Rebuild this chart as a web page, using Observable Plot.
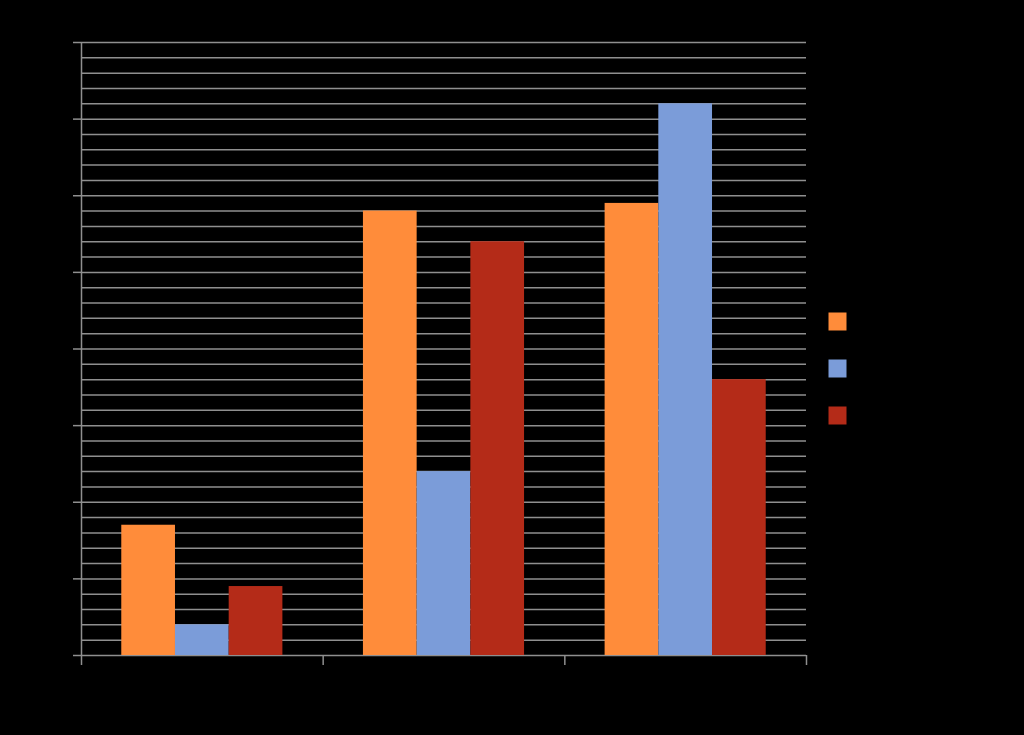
<!DOCTYPE html>
<html><head><meta charset="utf-8">
<script src="https://cdn.jsdelivr.net/npm/d3@7"></script>
<script src="https://cdn.jsdelivr.net/npm/@observablehq/plot@0.6"></script>
<style>
html,body{margin:0;padding:0;background:#000;}
#wrap{position:relative;width:1024px;height:735px;overflow:hidden;background:#000}
#legend{position:absolute;left:818px;top:290px}
</style></head><body><div id="wrap"><div id="chart"></div><div id="legend"></div></div>
<script>
const categories = ["Category 1", "Category 2", "Category 3"];
const seriesNames = ["Series 1", "Series 2", "Series 3"];
const series1 = [1.7, 5.8, 5.9];
const series2 = [0.4, 2.4, 7.2];
const series3 = [0.9, 5.4, 3.6];
const colors = ["#FF8C3A", "#7B9CD9", "#B42B18"];
const majorTicks = [0, 1, 2, 3, 4, 5, 6, 7, 8];
const minorStep = 0.2;

const seriesValues = [series1, series2, series3];
const rows = [];
categories.forEach((c, i) => {
  seriesValues.forEach((vals, j) => {
    rows.push({category: c, series: seriesNames[j], value: vals[i], gi: i, sj: j});
  });
});
const groupPad = 1 / 6, barW = 2 / 9;
const minorTicks = d3.range(0, 8 + 1e-9, minorStep);
const grid = "#8f8f8f";

const chart = Plot.plot({
  width: 1024, height: 735,
  marginLeft: 81, marginRight: 218, marginTop: 42, marginBottom: 80,
  style: {background: "#000", color: "#000", fontFamily: "Liberation Sans, Arial, sans-serif", fontSize: "13px"},
  x: {domain: [0, categories.length], axis: null},
  y: {domain: [0, 8], axis: null},
  color: {domain: seriesNames, range: colors},
  marks: [
    Plot.ruleY(minorTicks, {stroke: grid, strokeWidth: 1.5}),
    Plot.rectY(rows, {
      x1: d => d.gi + groupPad + d.sj * barW,
      x2: d => d.gi + groupPad + (d.sj + 1) * barW,
      y1: 0, y2: "value", fill: "series"
    }),
    Plot.ruleX([0], {stroke: grid, strokeWidth: 1.5}),
    Plot.axisY(majorTicks, {tickSize: 8, stroke: grid, strokeWidth: 1.5, fill: "#000", label: null, tickPadding: 4}),
    Plot.axisX(d3.range(0, categories.length + 1), {tickSize: 10, stroke: grid, strokeWidth: 1.5, tickFormat: () => "", label: null}),
    Plot.text(categories, {x: (d, i) => i + 0.5, text: d => d, frameAnchor: "bottom", dy: 28, fill: "#000"})
  ]
});
document.getElementById("chart").appendChild(chart);

const legend = Plot.plot({
  width: 200, height: 160,
  marginLeft: 0, marginRight: 0, marginTop: 31, marginBottom: 35,
  style: {background: "transparent", color: "#000", fontFamily: "Liberation Sans, Arial, sans-serif", fontSize: "13px"},
  x: {axis: null},
  y: {type: "point", domain: seriesNames, padding: 0, axis: null},
  color: {domain: seriesNames, range: colors},
  marks: [
    Plot.dot(seriesNames, {y: d => d, fill: d => d, symbol: "square", r: 10.155, frameAnchor: "left", dx: 19}),
    Plot.text(seriesNames, {y: d => d, text: d => d, frameAnchor: "left", dx: 36, textAnchor: "start", fill: "#000"})
  ]
});
document.getElementById("legend").appendChild(legend);
</script></body></html>
